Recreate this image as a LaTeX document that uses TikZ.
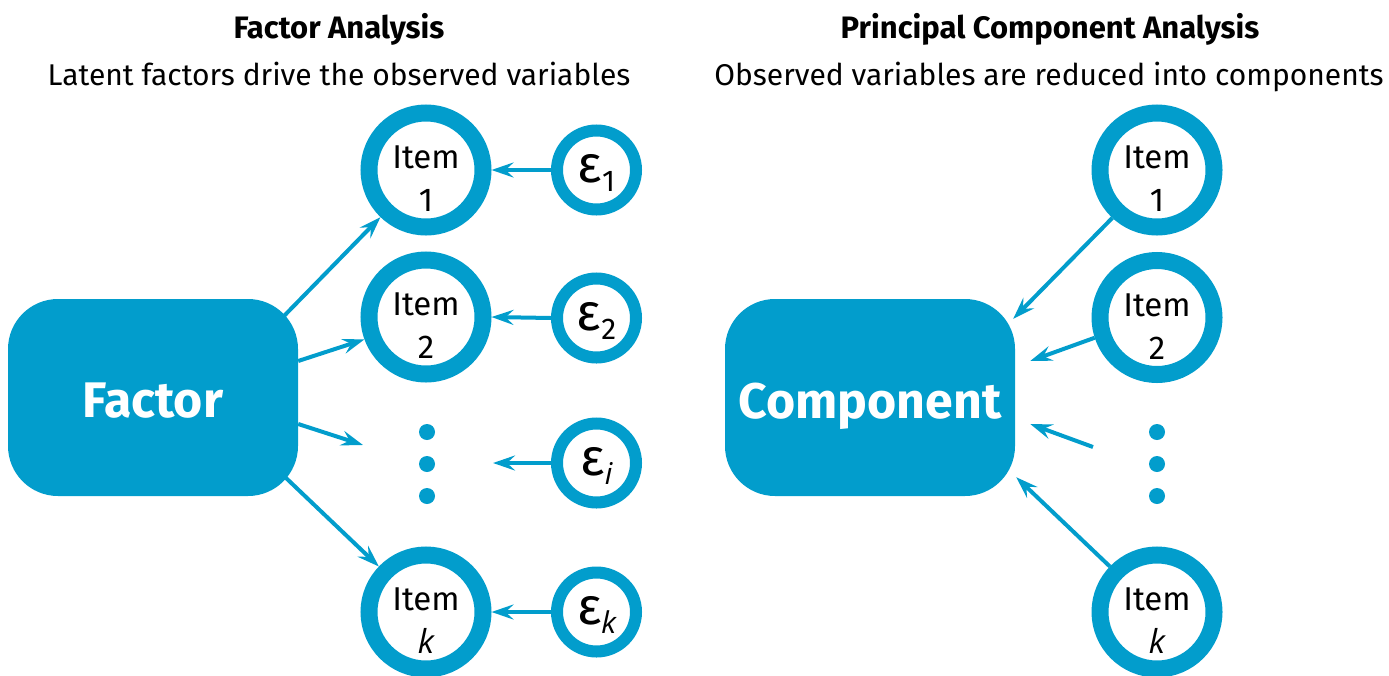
\documentclass[tikz,border=0pt]{standalone}
\usepackage{fontspec}
\setmainfont{Fira Sans}
\newfontfamily\itfont{Open Sans}
\usetikzlibrary{arrows.meta}
\definecolor{pblue}{RGB}{2,157,204}
\begin{document}
\begin{tikzpicture}[x=1pt,y=-1pt,
  bigbox/.style={rectangle, rounded corners=50pt, fill=pblue, minimum width=290pt, minimum height=197pt, text=white, font=\fontsize{50}{50}\selectfont\bfseries, inner sep=0pt},
  itemring/.style={circle, draw=pblue, line width=17pt, minimum size=114pt, inner sep=0pt},
  epsring/.style={circle, draw=pblue, line width=12pt, minimum size=79pt, inner sep=0pt},
  itemtext/.style={align=center, font=\fontsize{33}{43}\selectfont, inner sep=0pt},
  epstext/.style={anchor=base, inner sep=0pt},
  arr/.style={draw=pblue, line width=4pt, -{Stealth[length=22pt,width=15pt,inset=8pt]}},
  dotc/.style={circle, fill=pblue, minimum size=16pt, inner sep=0pt},
  ttl/.style={anchor=base, font=\fontsize{31}{31}\selectfont\bfseries, inner sep=0pt},
  sub/.style={anchor=base, font=\fontsize{30}{30}\selectfont, inner sep=0pt}
]
\useasboundingbox (0,0) rectangle (1389,675);
\newcommand{\eps}[1]{{\fontsize{52}{52}\selectfont ε}\raisebox{-9pt}{\fontsize{30}{30}\selectfont #1}}
\newcommand{\ivar}[1]{{\itfont\itshape #1}}

% titles
\node[ttl] (tl) at (339,38) {Factor Analysis};
\node[sub] (sl) at (339,85) {Latent factors drive the observed variables};
\node[ttl] (tr) at (1050,38) {Principal Component Analysis};
\node[sub] (sr) at (1049,85) {Observed variables are reduced into components};

% ---------- Factor analysis ----------
\node[bigbox] (fbox) at (153,397.5) {\raisebox{-20pt}[0pt][0pt]{Factor}};
\node[itemring] (fi1) at (426,170) {};
\node[itemring] (fi2) at (426,317) {};
\node[itemring] (fik) at (426,612) {};
\node[itemtext] (fi1t) at ([yshift=-9pt]fi1.center) {Item\\1};
\node[itemtext] (fi2t) at ([yshift=-9pt]fi2.center) {Item\\2};
\node[itemtext] (fikt) at ([yshift=-9pt]fik.center) {Item\\\ivar{k}};
\node[dotc] (fd1) at (427,432) {};
\node[dotc] (fd2) at (427,464) {};
\node[dotc] (fd3) at (427,496) {};
\coordinate (fdt) at (363,445);

\node[epsring] (e1) at (596.5,170) {};
\node[epsring] (e2) at (596.5,318) {};
\node[epsring] (ei) at (596.5,463) {};
\node[epsring] (ek) at (596.5,612) {};
\node[epstext] (e1t) at ([yshift=-12pt]e1.center) {\eps{1}};
\node[epstext] (e2t) at ([yshift=-12pt]e2.center) {\eps{2}};
\node[epstext] (eit) at ([yshift=-12pt]ei.center) {\eps{\ivar{i}}};
\node[epstext] (ekt) at ([yshift=-12pt]ek.center) {\eps{\ivar{k}}};
\coordinate (eid) at (493,463);

\draw[arr] ([xshift=-15pt,yshift=-18pt]fbox.north east) -- (fi1.226);
\draw[arr] ([yshift=36.5pt]fbox.east) -- (fi2.200);
\draw[arr] ([yshift=-26.5pt]fbox.east) -- (fdt);
\draw[arr] ([xshift=-13pt,yshift=19pt]fbox.south east) -- (fik.136);

\draw[arr] (e1.west) -- (fi1.east);
\draw[arr] (e2.west) -- (fi2.east);
\draw[arr] (ei.west) -- (eid);
\draw[arr] (ek.west) -- (fik.east);

% ---------- PCA ----------
\node[bigbox] (cbox) at (870,397.5) {\raisebox{-21pt}[0pt][0pt]{Component}};
\node[itemring] (ci1) at (1157,170) {};
\node[itemring] (ci2) at (1157,317.5) {};
\node[itemring] (cik) at (1157,612) {};
\node[itemtext] (ci1t) at ([yshift=-9pt]ci1.center) {Item\\1};
\node[itemtext] (ci2t) at ([yshift=-9pt]ci2.center) {Item\\2};
\node[itemtext] (cikt) at ([yshift=-9pt]cik.center) {Item\\\ivar{k}};
\node[dotc] (cd1) at (1157,432) {};
\node[dotc] (cd2) at (1157,464) {};
\node[dotc] (cd3) at (1157,496) {};
\coordinate (cds) at (1093,447);

\draw[arr] (ci1.227) -- ([xshift=-2pt,yshift=-20pt]cbox.north east);
\draw[arr] (ci2.198) -- ([xshift=15pt,yshift=36.5pt]cbox.east);
\draw[arr] (cds) -- ([xshift=15pt,yshift=-26.5pt]cbox.east);
\draw[arr] (cik.136) -- ([xshift=1pt,yshift=19pt]cbox.south east);
\end{tikzpicture}
\end{document}
